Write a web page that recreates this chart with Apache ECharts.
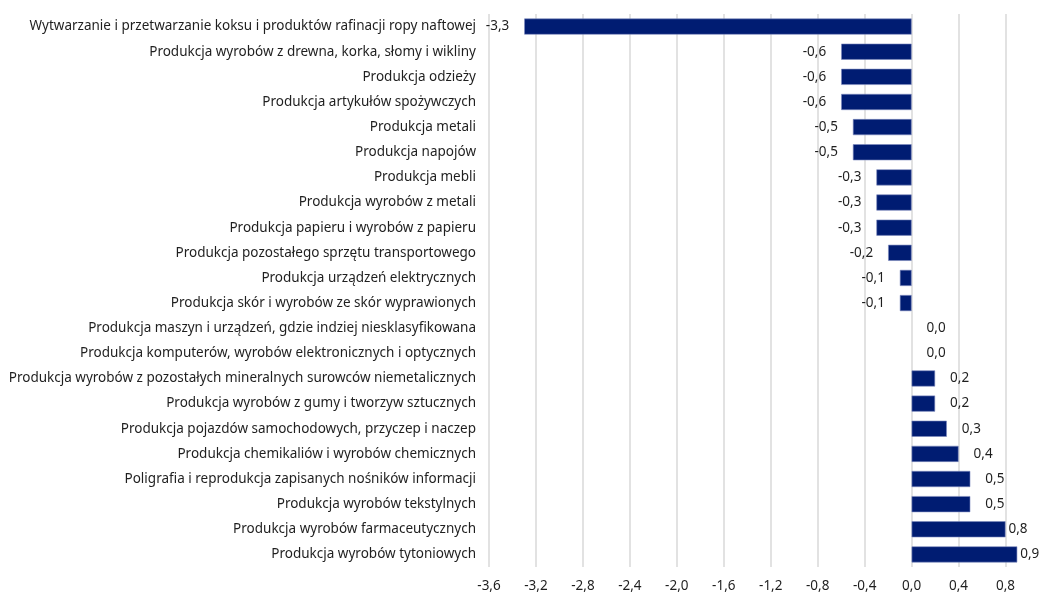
<!DOCTYPE html>
<html>
<head>
<meta charset="utf-8">
<script src="https://cdn.jsdelivr.net/npm/echarts@6/dist/echarts.min.js"></script>
<style>
html, body { margin: 0; padding: 0; background: #fff; }
#chart { width: 1041px; height: 594px; }
</style>
</head>
<body>
<div id="chart"></div>
<script>
// kategorie od góry do dołu
var categories = [
    'Wytwarzanie i przetwarzanie koksu i produktów rafinacji ropy naftowej',
    'Produkcja wyrobów z drewna, korka, słomy i wikliny',
    'Produkcja odzieży',
    'Produkcja artykułów spożywczych',
    'Produkcja metali',
    'Produkcja napojów',
    'Produkcja mebli',
    'Produkcja wyrobów z metali',
    'Produkcja papieru i wyrobów z papieru',
    'Produkcja pozostałego sprzętu transportowego',
    'Produkcja urządzeń elektrycznych',
    'Produkcja skór i wyrobów ze skór wyprawionych',
    'Produkcja maszyn i urządzeń, gdzie indziej niesklasyfikowana',
    'Produkcja komputerów, wyrobów elektronicznych i optycznych',
    'Produkcja wyrobów z pozostałych mineralnych surowców niemetalicznych',
    'Produkcja wyrobów z gumy i tworzyw sztucznych',
    'Produkcja pojazdów samochodowych, przyczep i naczep',
    'Produkcja chemikaliów i wyrobów chemicznych',
    'Poligrafia i reprodukcja zapisanych nośników informacji',
    'Produkcja wyrobów tekstylnych',
    'Produkcja wyrobów farmaceutycznych',
    'Produkcja wyrobów tytoniowych'
];
var values = [-3.3, -0.6, -0.6, -0.6, -0.5, -0.5, -0.3, -0.3, -0.3, -0.2, -0.1, -0.1,
              0.0, 0.0, 0.2, 0.2, 0.3, 0.4, 0.5, 0.5, 0.8, 0.9];

function fmt(v) {
    return v.toFixed(1).replace('.', ',');
}

var items = [];
values.forEach(function (v) {
    var item = { value: v, label: {} };
    if (v < 0) {
        item.label.position = 'left';
    } else {
        item.label.position = 'right';
        // przy prawej krawędzi etykiety są dosunięte do słupka
        if (v > 0.7) item.label.distance = 3;
    }
    if (v === 0) item.itemStyle = { borderWidth: 0 };
    items.push(item);
});

var chart = echarts.init(document.getElementById('chart'));
var option = {
    animation: false,
    grid: { left: 489, right: 12, top: 14, bottom: 27 },
    xAxis: {
        type: 'value',
        min: -3.6,
        max: 1.0,
        interval: 0.4,
        axisLine: { show: false },
        axisTick: { show: false },
        splitLine: { show: true, showMaxLine: false, lineStyle: { color: '#d9d9d9', width: 1.5 } },
        axisLabel: {
            showMaxLabel: false,
            margin: 12,
            color: '#1f1f1f',
            fontSize: 13.5,
            fontFamily: 'Noto Sans',
            formatter: function (v) { return fmt(v); }
        }
    },
    yAxis: {
        type: 'category',
        inverse: true,
        data: categories,
        position: 'left',
        axisLine: { show: false },
        axisTick: { show: false },
        axisLabel: {
            margin: 13,
            color: '#1f1f1f',
            fontSize: 13.5,
            fontFamily: 'Noto Sans'
        }
    },
    series: [{
        type: 'bar',
        data: items,
        barCategoryGap: '36%',
        itemStyle: { color: '#001c72', borderColor: '#7d8cc0', borderWidth: 0.6 },
        label: {
            show: true,
            distance: 15,
            color: '#1f1f1f',
            fontSize: 13.5,
            fontFamily: 'Noto Sans',
            formatter: function (p) { return fmt(p.value); }
        }
    }]
};
chart.setOption(option);
</script>
</body>
</html>
